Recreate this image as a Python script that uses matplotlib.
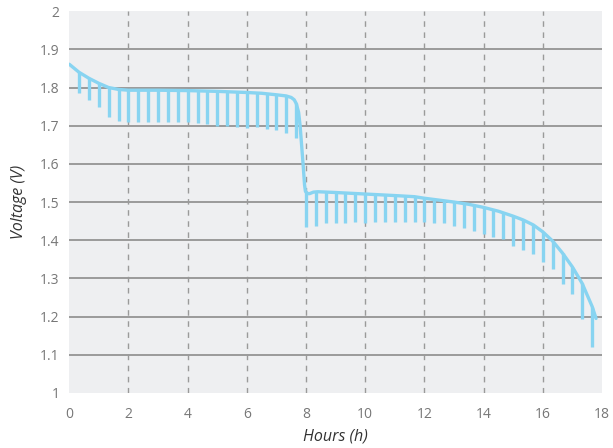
import numpy as np
import matplotlib
matplotlib.use('Agg')
import matplotlib.pyplot as plt

plt.rcParams['font.family'] = ['Open Sans', 'DejaVu Sans']

# smooth discharge curve (hours, volts)
curve_hours = [0, 0.33, 0.67, 1.0, 1.33, 1.67, 2.0, 3.0, 4.0, 5.0, 6.0, 6.5, 7.0, 7.33,
               7.5, 7.6, 7.67, 7.75, 7.8, 7.85, 7.9, 7.95, 7.98, 8.05, 8.12, 8.25, 8.4,
               9.0, 10.0, 11.0, 11.67, 12.0, 12.5, 13.0, 13.5, 14.0, 14.5, 15.0, 15.34,
               15.68, 16.0, 16.33, 16.66, 17.0, 17.33, 17.67, 17.8]
curve_volts = [1.861, 1.840, 1.824, 1.811, 1.800, 1.795, 1.793, 1.793, 1.792, 1.790, 1.787,
               1.785, 1.781, 1.778, 1.774, 1.768, 1.758, 1.735, 1.700, 1.650, 1.600, 1.545,
               1.528, 1.522, 1.522, 1.526, 1.527, 1.525, 1.521, 1.517, 1.514, 1.510, 1.505,
               1.500, 1.494, 1.486, 1.476, 1.463, 1.453, 1.440, 1.422, 1.398, 1.367, 1.330,
               1.287, 1.226, 1.195]

# ripple bars every 20 minutes: top on the curve, bottom = dip
bar_hours = [k / 3 for k in range(1, 54)]
bar_top = [1.840, 1.824, 1.811, 1.800, 1.795, 1.793, 1.793, 1.793, 1.793, 1.792, 1.792,
           1.792, 1.791, 1.791, 1.790, 1.789, 1.788, 1.787, 1.786, 1.784, 1.781, 1.778,
           1.760, 1.528, 1.527, 1.526, 1.525, 1.524, 1.523, 1.521, 1.520, 1.518, 1.517,
           1.515, 1.514, 1.510, 1.507, 1.504, 1.500, 1.496, 1.491, 1.486, 1.479, 1.472,
           1.463, 1.453, 1.440, 1.422, 1.398, 1.367, 1.330, 1.287, 1.226]
bar_bottom = [1.786, 1.768, 1.750, 1.723, 1.713, 1.711, 1.710, 1.710, 1.710, 1.710, 1.710,
              1.710, 1.708, 1.705, 1.699, 1.699, 1.697, 1.693, 1.696, 1.692, 1.688, 1.681,
              1.667, 1.435, 1.437, 1.444, 1.444, 1.444, 1.447, 1.446, 1.447, 1.447, 1.448,
              1.447, 1.448, 1.448, 1.444, 1.444, 1.438, 1.433, 1.425, 1.416, 1.409, 1.402,
              1.386, 1.374, 1.364, 1.343, 1.325, 1.286, 1.260, 1.194, 1.119]

x_ticks = [0, 2, 4, 6, 8, 10, 12, 14, 16, 18]
y_ticks = [1, 1.1, 1.2, 1.3, 1.4, 1.5, 1.6, 1.7, 1.8, 1.9, 2]
y_labels = ['1', '1.1', '1.2', '1.3', '1.4', '1.5', '1.6', '1.7', '1.8', '1.9', '2']

blue = '#88d4f1'

fig = plt.figure(figsize=(6.13, 4.48), dpi=100)
ax = fig.add_axes([0.113, 0.123, 0.869, 0.852])
ax.set_facecolor('#eeeff1')

ax.vlines(bar_hours, bar_bottom, bar_top, colors=blue, linewidth=2.4, zorder=3)
ax.plot(curve_hours, curve_volts, color=blue, linewidth=2.4, zorder=4,
        solid_capstyle='round')

ax.set_xlim(0, 18)
ax.set_ylim(1, 2)
ax.set_xticks(x_ticks)
ax.set_yticks(y_ticks)
ax.set_yticklabels(y_labels)

ax.xaxis.grid(True, color='#9a9a9a', linestyle=(0, (4, 4)), linewidth=1.0)
ax.yaxis.grid(True, color='#9a9a9a', linestyle='-', linewidth=1.4)
ax.set_axisbelow(True)
gx = ax.xaxis.get_gridlines()
gy = ax.yaxis.get_gridlines()
for g in (gx[0], gx[-1], gy[0], gy[-1]):
    g.set_visible(False)

for s in ax.spines.values():
    s.set_visible(False)
ax.tick_params(length=0, labelsize=10, labelcolor='#777777')
ax.tick_params(axis='x', pad=10)
ax.tick_params(axis='y', pad=7)

ax.set_xlabel('Hours (h)', fontsize=11.5, style='italic', color='#333333', labelpad=5)
ax.set_ylabel('Voltage (V)', fontsize=11.5, style='italic', color='#333333', labelpad=9)

fig.savefig('out.png', dpi=100)
